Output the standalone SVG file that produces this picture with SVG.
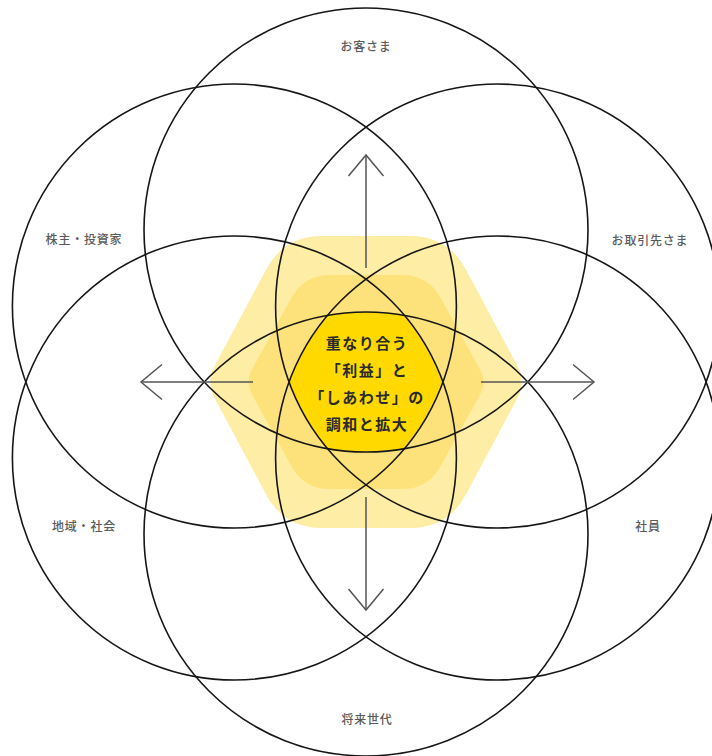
<svg xmlns="http://www.w3.org/2000/svg" width="712" height="756" viewBox="0 0 712 756">
<style>
.ring{fill:none;stroke:#161616;stroke-width:1.6}
.lbl{font-family:"Noto Sans CJK JP","Noto Sans",sans-serif;font-size:12px;font-weight:500;fill:#5a5a5a;text-anchor:middle;dominant-baseline:central;letter-spacing:0.8px}
.core{font-family:"Noto Sans CJK JP","Noto Sans",sans-serif;font-size:15px;font-weight:bold;fill:#2a2a2a;text-anchor:middle;dominant-baseline:central;letter-spacing:1.5px}
.arrow{fill:none;stroke:#555;stroke-width:1.5}
</style>
<defs>
<marker id="arr" markerUnits="userSpaceOnUse" viewBox="-25 -22 30 44" markerWidth="30" markerHeight="44" refX="0" refY="0" orient="auto" overflow="visible">
<path d="M-21,-17.5 L0,0 L-21,17.5" fill="none" stroke="#555" stroke-width="1.5"/>
</marker>
</defs>
<rect width="712" height="756" fill="#fff"/>
<g id="background">
<path d="M214.5,366.1 L266.1,269.5 Q284,236 322,236 L410,236 Q448,236 465.9,269.5 L517.5,366.1 Q526,382 517.5,397.9 L465.9,494.5 Q448,528 410,528 L322,528 Q284,528 266.1,494.5 L214.5,397.9 Q206,382 214.5,366.1 Z" fill="#FEEDA4"/>
<path d="M251.8,369.7 L291.4,297.8 Q304,275 330,275 L402,275 Q428,275 440.6,297.8 L480.2,369.7 Q487,382 480.2,394.3 L440.6,466.2 Q428,489 402,489 L330,489 Q304,489 291.4,466.2 L251.8,394.3 Q245,382 251.8,369.7 Z" fill="#FDE27C"/>
</g>
<g id="center">
<path d="M289,382 A222,222 0 0 1 327.5,315.3 A222,222 0 0 1 404.5,315.3 A222,222 0 0 1 443,382 A222,222 0 0 1 404.5,448.7 A222,222 0 0 1 327.5,448.7 A222,222 0 0 1 289,382 Z" fill="#FFD900"/>
<text class="core" x="367" y="342">重なり合う</text>
<text class="core" x="367" y="369">「利益」と</text>
<text class="core" x="367" y="396">「しあわせ」の</text>
<text class="core" x="367" y="423">調和と拡大</text>
</g>
<g id="customers">
<circle class="ring" cx="366" cy="230" r="222"/>
<text class="lbl" x="366" y="45">お客さま</text>
</g>
<g id="partners">
<circle class="ring" cx="497.6" cy="306" r="222"/>
<text class="lbl" x="650" y="239">お取引先さま</text>
</g>
<g id="employees">
<circle class="ring" cx="497.6" cy="458" r="222"/>
<text class="lbl" x="648" y="525">社員</text>
</g>
<g id="future">
<circle class="ring" cx="366" cy="534" r="222"/>
<text class="lbl" x="367" y="718">将来世代</text>
</g>
<g id="community">
<circle class="ring" cx="234.4" cy="458" r="222"/>
<text class="lbl" x="84" y="525">地域・社会</text>
</g>
<g id="shareholders">
<circle class="ring" cx="234.4" cy="306" r="222"/>
<text class="lbl" x="84" y="238">株主・投資家</text>
</g>
<g id="connectors">
<path class="arrow" d="M366,268 L366,155" marker-end="url(#arr)"/>
<path class="arrow" d="M366,497 L366,610" marker-end="url(#arr)"/>
<path class="arrow" d="M253,382 L141,382" marker-end="url(#arr)"/>
<path class="arrow" d="M481,382 L594,382" marker-end="url(#arr)"/>
</g>
</svg>
